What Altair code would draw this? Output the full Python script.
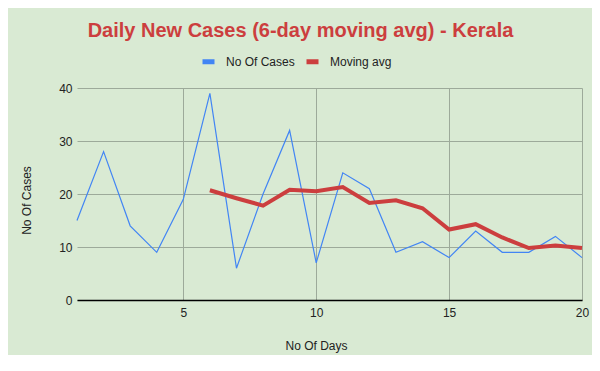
import altair as alt
import pandas as pd

days = list(range(1, 21))
cases = [15, 28, 14, 9, 19, 39, 6, 20, 32, 7, 24, 21, 9, 11, 8, 13, 9, 9, 12, 8]
moving_avg = [None, None, None, None, None, 20.7, 19.2, 17.8, 20.8, 20.5,
              21.3, 18.3, 18.8, 17.3, 13.3, 14.3, 11.8, 9.8, 10.3, 9.8]
series_names = ["No Of Cases", "Moving avg"]
colors = ["#4285f4", "#cc3e3e"]

rows = []
for d, c, m in zip(days, cases, moving_avg):
    rows.append({"day": d, "value": c, "series": series_names[0], "weight": "thin"})
    if m is not None:
        rows.append({"day": d, "value": m, "series": series_names[1], "weight": "thick"})
df = pd.DataFrame(rows)

grid_color = "#9daa9a"
font = "Liberation Sans"

chart = alt.Chart(df).mark_line().encode(
    x=alt.X("day:Q",
            scale=alt.Scale(domain=[1, 20], nice=False, zero=False),
            axis=alt.Axis(values=[5, 10, 15, 20], grid=True, gridColor=grid_color,
                          domainColor="#000000", domainWidth=1.5, ticks=False,
                          labelPadding=7, labelFontSize=12, labelColor="#222222",
                          labelFont=font, title="No Of Days", titleFont=font,
                          titleFontSize=12, titleFontWeight="normal", titleColor="#222222",
                          titleX=239, titleY=45, titleBaseline="middle", titleAnchor="start",
                          titleAlign="center", labelFlush=False)),
    y=alt.Y("value:Q",
            scale=alt.Scale(domain=[0, 40], nice=False),
            axis=alt.Axis(values=[0, 10, 20, 30, 40], grid=True, gridColor=grid_color,
                          domain=False, ticks=False, labelPadding=5, labelFontSize=12,
                          labelColor="#222222", labelFont=font, title="No Of Cases",
                          titleFont=font, titleFontSize=12, titleFontWeight="normal",
                          titleColor="#222222", titleX=-51, titleY=112,
                          titleBaseline="middle", titleAlign="center", titleAngle=270)),
    color=alt.Color("series:N",
                    scale=alt.Scale(domain=series_names, range=colors),
                    legend=alt.Legend(orient="none", legendX=123, legendY=-35,
                                      direction="horizontal", title=None,
                                      symbolType="stroke", symbolSize=144,
                                      symbolStrokeWidth=5, symbolOpacity=1,
                                      labelFont=font, labelFontSize=12,
                                      labelColor="#222222", labelOffset=9,
                                      columnPadding=1)),
    strokeWidth=alt.StrokeWidth("weight:N",
                                scale=alt.Scale(domain=["thin", "thick"], range=[1.2, 4]),
                                legend=None),
    detail="series:N",
    order="day:Q",
).properties(
    width=505,
    height=212,
    padding={"left": 69, "top": 80, "right": 10, "bottom": 55},
    autosize=alt.AutoSizeParams(type="none"),
    background="#d9ead3",
    title=alt.TitleParams("Daily New Cases (6-day moving avg) - Kerala",
                          font=font, fontSize=20, fontWeight="bold",
                          color="#cc3e3e", anchor="middle", dx=-29, offset=12),
).configure_view(stroke=None)

chart.save("out.html", embed_options={"renderer": "svg", "actions": False})
